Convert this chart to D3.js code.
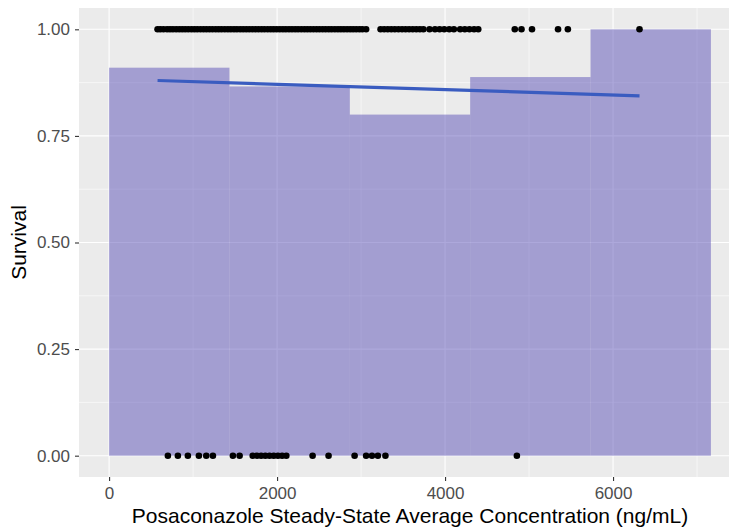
<!DOCTYPE html>
<html>
<head>
<meta charset="utf-8">
<script src="https://cdn.jsdelivr.net/npm/d3@7"></script>
<style>
  html, body { margin: 0; padding: 0; background: #ffffff; }
  svg { display: block; }
  text { font-family: "Liberation Sans", Arial, sans-serif; }
</style>
</head>
<body>
<svg id="chart" width="729" height="529"></svg>
<script>
// ---- data ----
const binEdges = [0, 1433, 2866, 4299, 5732, 7165];
const binSurvival = [0.91, 0.866, 0.80, 0.888, 1.0];

const fitConc = [577, 6315];
const fitSurvival = [0.880, 0.844];

const survivedConc = [
  577, 610, 648, 690, 725, 760, 798, 835, 870, 905, 942, 980, 1015, 1050, 1088, 1125,
  1160, 1196, 1232, 1270, 1305, 1340, 1378, 1415, 1450, 1487, 1522, 1560, 1596, 1632,
  1668, 1705, 1742, 1778, 1815, 1850, 1888, 1925, 1960, 1996, 2033, 2070, 2105, 2142,
  2178, 2215, 2250, 2288, 2325, 2360, 2396, 2433, 2470, 2505, 2542, 2578, 2615, 2650,
  2688, 2725, 2760, 2796, 2833, 2870, 2905, 2942, 2980, 3015, 3060,
  3232, 3275, 3318, 3360, 3402, 3445, 3488, 3530, 3572, 3615, 3658, 3700, 3742,
  3815, 3880, 3935, 3990, 4050, 4105, 4180, 4235, 4290, 4345, 4395,
  4830, 4910, 5035, 5345, 5462, 6315
];
const diedConc = [
  700, 819, 938, 1069, 1157, 1236, 1474, 1554, 1710, 1760, 1810, 1860, 1910, 1960,
  2010, 2060, 2110, 2423, 2613, 2923, 3060, 3130, 3200, 3290, 4855
];

const xTicks = [0, 2000, 4000, 6000];
const xMinor = [1000, 3000, 5000, 7000];
const yTicks = [0, 0.25, 0.5, 0.75, 1];
const yMinor = [0.125, 0.375, 0.625, 0.875];
const xTitle = "Posaconazole Steady-State Average Concentration (ng/mL)";
const yTitle = "Survival";

// ---- layout ----
const svg = d3.select("#chart");
const panel = { left: 79, right: 741, top: 8, bottom: 477 };

const xLo = binEdges[0], xHi = binEdges[binEdges.length - 1];
const xPad = 0.05 * (xHi - xLo);
const x = d3.scaleLinear().domain([xLo - xPad, xHi + xPad]).range([panel.left, panel.right]);
const y = d3.scaleLinear().domain([-0.05, 1.05]).range([panel.bottom, panel.top]);

// panel background
svg.append("rect")
  .attr("x", panel.left).attr("y", panel.top)
  .attr("width", panel.right - panel.left).attr("height", panel.bottom - panel.top)
  .attr("fill", "#EBEBEB");

const grid = svg.append("g");
// minor grid
grid.selectAll(".ym").data(yMinor).join("line")
  .attr("x1", panel.left).attr("x2", panel.right)
  .attr("y1", d => y(d)).attr("y2", d => y(d))
  .attr("stroke", "#fff").attr("stroke-width", 0.55);
grid.selectAll(".xm").data(xMinor).join("line")
  .attr("y1", panel.top).attr("y2", panel.bottom)
  .attr("x1", d => x(d)).attr("x2", d => x(d))
  .attr("stroke", "#fff").attr("stroke-width", 0.55);
// major grid
grid.selectAll(".yM").data(yTicks).join("line")
  .attr("x1", panel.left).attr("x2", panel.right)
  .attr("y1", d => y(d)).attr("y2", d => y(d))
  .attr("stroke", "#fff").attr("stroke-width", 1.1);
grid.selectAll(".xM").data(xTicks).join("line")
  .attr("y1", panel.top).attr("y2", panel.bottom)
  .attr("x1", d => x(d)).attr("x2", d => x(d))
  .attr("stroke", "#fff").attr("stroke-width", 1.1);

// bars (binned survival)
const bins = binSurvival.map((v, i) => ({ x0: binEdges[i], x1: binEdges[i + 1], v }));
svg.append("g").selectAll("rect").data(bins).join("rect")
  .attr("x", d => x(d.x0))
  .attr("width", d => x(d.x1) - x(d.x0))
  .attr("y", d => y(d.v))
  .attr("height", d => y(0) - y(d.v))
  .attr("fill", "#5B52B8")
  .attr("fill-opacity", 0.5);

// fitted line
const fit = fitConc.map((c, i) => [c, fitSurvival[i]]);
svg.append("path")
  .datum(fit)
  .attr("d", d3.line().x(d => x(d[0])).y(d => y(d[1])))
  .attr("fill", "none")
  .attr("stroke", "#3A5CC0")
  .attr("stroke-width", 3.2);

// points
const pts = survivedConc.map(c => [c, 1]).concat(diedConc.map(c => [c, 0]));
svg.append("g").selectAll("circle").data(pts).join("circle")
  .attr("cx", d => x(d[0]))
  .attr("cy", d => y(d[1]))
  .attr("r", 3.3)
  .attr("fill", "#000");

// axes
const xAxis = svg.append("g")
  .attr("transform", `translate(0,${panel.bottom})`)
  .call(d3.axisBottom(x).tickValues(xTicks).tickFormat(d3.format("d")).tickSize(4).tickPadding(6));
const yAxis = svg.append("g")
  .attr("transform", `translate(${panel.left},0)`)
  .call(d3.axisLeft(y).tickValues(yTicks).tickFormat(d3.format(".2f")).tickSize(4).tickPadding(5));

[xAxis, yAxis].forEach(a => {
  a.select(".domain").remove();
  a.selectAll(".tick line").attr("stroke", "#333333").attr("stroke-width", 1.1);
  a.selectAll(".tick text")
    .attr("fill", "#4D4D4D")
    .style("font-family", '"Liberation Sans", Arial, sans-serif')
    .style("font-size", "17px");
});

// titles
svg.append("text")
  .attr("x", (panel.left + panel.right) / 2)
  .attr("y", 523)
  .attr("text-anchor", "middle")
  .attr("fill", "#000")
  .style("font-size", "21px")
  .text(xTitle);

svg.append("text")
  .attr("transform", `translate(26,${(panel.top + panel.bottom) / 2}) rotate(-90)`)
  .attr("text-anchor", "middle")
  .attr("fill", "#000")
  .style("font-size", "21px")
  .text(yTitle);
</script>
</body>
</html>
